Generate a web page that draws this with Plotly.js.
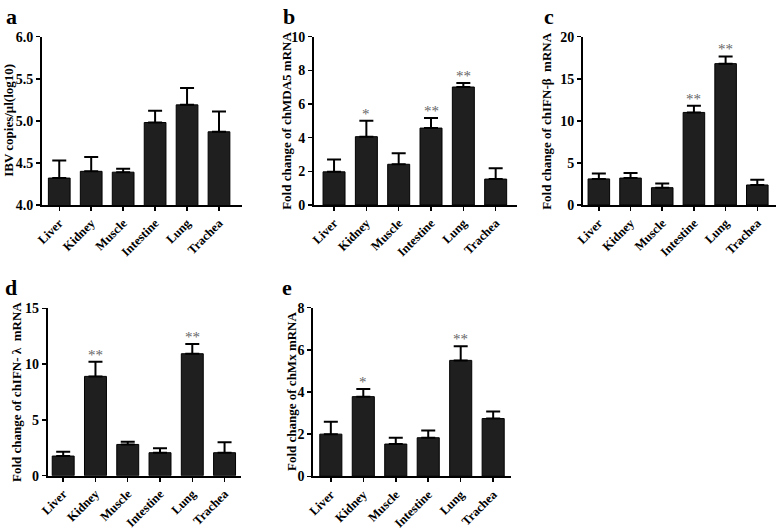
<!DOCTYPE html>
<html>
<head>
<meta charset="utf-8">
<script src="https://cdn.plot.ly/plotly-3.0.1.min.js"></script>
<style>html,body{margin:0;padding:0;background:#fff;}#chart{width:778px;height:529px;}</style>
</head>
<body>
<div id="chart"></div>
<script>
const categories = ["Liver", "Kidney", "Muscle", "Intestine", "Lung", "Trachea"];

const ibvMean = [4.32, 4.40, 4.39, 4.98, 5.19, 4.87];
const ibvErr  = [0.21, 0.17, 0.04, 0.14, 0.20, 0.24];

const mda5Mean = [1.97, 4.06, 2.42, 4.57, 7.01, 1.54];
const mda5Err  = [0.74, 0.95, 0.65, 0.60, 0.24, 0.64];
const mda5Sig  = ["", "*", "", "**", "**", ""];

const ifnbMean = [3.10, 3.20, 2.06, 11.0, 16.8, 2.38];
const ifnbErr  = [0.65, 0.60, 0.50, 0.80, 0.86, 0.62];
const ifnbSig  = ["", "", "", "**", "**", ""];

const ifnlMean = [1.76, 8.90, 2.80, 2.06, 10.93, 2.06];
const ifnlErr  = [0.39, 1.30, 0.25, 0.39, 0.87, 0.93];
const ifnlSig  = ["", "**", "", "", "**", ""];

const mxMean = [2.00, 3.78, 1.53, 1.83, 5.50, 2.74];
const mxErr  = [0.59, 0.36, 0.30, 0.34, 0.67, 0.33];
const mxSig  = ["", "*", "", "", "**", ""];

const W = 778, H = 529;
const FONT = "Liberation Serif";

const panels = [
  {letter: "a", mean: ibvMean, err: ibvErr, sig: null, title: "IBV copies/\u03bcl(log10)",
   yrange: [4, 6], dtick: 0.5, fmt: ".1f", xr: [-0.54, 5.72], px: [42, 242], py: [36.7, 205], lx: 4, ly: 2, tx: 9},
  {letter: "b", mean: mda5Mean, err: mda5Err, sig: mda5Sig, title: "Fold change of chMDA5 mRNA",
   yrange: [0, 10], dtick: 2, fmt: "d", xr: [-0.62, 5.66], px: [314, 517], py: [36.7, 205], lx: 281, ly: 2, tx: 287},
  {letter: "c", mean: ifnbMean, err: ifnbErr, sig: ifnbSig, title: "Fold change of chIFN-\u03b2  mRNA",
   yrange: [0, 20], dtick: 5, fmt: "d", xr: [-0.5, 5.59], px: [583, 776], py: [36.7, 205], lx: 542, ly: 2, tx: 547},
  {letter: "d", mean: ifnlMean, err: ifnlErr, sig: ifnlSig, title: "Fold change of chIFN- \u03bb  mRNA",
   yrange: [0, 15], dtick: 5, fmt: "d", xr: [-0.48, 5.5], px: [47.7, 240.7], py: [308.3, 475.7], lx: 3, ly: 273, tx: 16},
  {letter: "e", mean: mxMean, err: mxErr, sig: mxSig, title: "Fold change of chMx mRNA",
   yrange: [0, 8], dtick: 2, fmt: "d", xr: [-0.54, 5.54], px: [313.3, 510.7], py: [307.7, 476.3], lx: 280, ly: 273, tx: 291}
];

const traces = [];
const layout = {
  width: W, height: H,
  margin: {l: 0, r: 0, t: 0, b: 0},
  paper_bgcolor: "#fff", plot_bgcolor: "#fff",
  showlegend: false,
  font: {family: FONT, color: "#000", weight: "bold"},
  annotations: []
};

panels.forEach((p, i) => {
  const n = i + 1;
  const xa = n === 1 ? "x" : "x" + n;
  const ya = n === 1 ? "y" : "y" + n;
  traces.push({
    type: "bar", x: categories, y: p.mean, xaxis: xa, yaxis: ya,
    width: 0.68,
    marker: {color: "#1f1f1f", line: {color: "#000", width: 1}},
    error_y: {type: "data", symmetric: false, array: p.err, arrayminus: p.err.map(() => 0),
              color: "#000", thickness: 2, width: 7},
    hoverinfo: "x+y"
  });
  const xkey = n === 1 ? "xaxis" : "xaxis" + n;
  const ykey = n === 1 ? "yaxis" : "yaxis" + n;
  layout[xkey] = {
    domain: [p.px[0] / W, p.px[1] / W],
    anchor: ya, type: "category", range: p.xr,
    showline: true, linecolor: "#000", linewidth: 2,
    ticks: "outside", ticklen: 4, tickwidth: 1.5, tickcolor: "#000",
    tickangle: -45, showgrid: false, zeroline: false,
    tickfont: {family: FONT, size: 12.5, color: "#000", weight: "bold"}
  };
  layout[ykey] = {
    domain: [1 - p.py[1] / H, 1 - p.py[0] / H],
    anchor: xa, range: p.yrange, dtick: p.dtick, tick0: p.yrange[0], tickformat: p.fmt,
    showline: true, linecolor: "#000", linewidth: 2,
    ticks: "outside", ticklen: 4, tickwidth: 1.5, tickcolor: "#000",
    showgrid: false, zeroline: false,
    tickfont: {family: FONT, size: 14, color: "#000", weight: "bold"}
  };
  // y-axis title
  layout.annotations.push({
    xref: "paper", yref: "paper", x: p.tx / W, y: 1 - (p.py[0] + p.py[1]) / 2 / H,
    xanchor: "center", yanchor: "middle", textangle: -90, showarrow: false, text: p.title,
    font: {family: FONT, size: 13, color: "#000", weight: "bold"}
  });
  // panel letter
  layout.annotations.push({
    xref: "paper", yref: "paper", x: p.lx / W, y: 1 - p.ly / H,
    xanchor: "left", yanchor: "top", showarrow: false, text: p.letter,
    font: {family: FONT, size: 22, color: "#000", weight: "bold"}
  });
  if (p.sig) {
    p.sig.forEach((s, k) => {
      if (!s) return;
      layout.annotations.push({
        xref: xa, yref: ya, x: categories[k], y: p.mean[k] + p.err[k],
        xanchor: "center", yanchor: "bottom", yshift: -3, showarrow: false, text: s,
        font: {family: FONT, size: 15, color: "#666666", weight: "normal"}
      });
    });
  }
});

Plotly.newPlot("chart", traces, layout, {staticPlot: true});
</script>
</body>
</html>
